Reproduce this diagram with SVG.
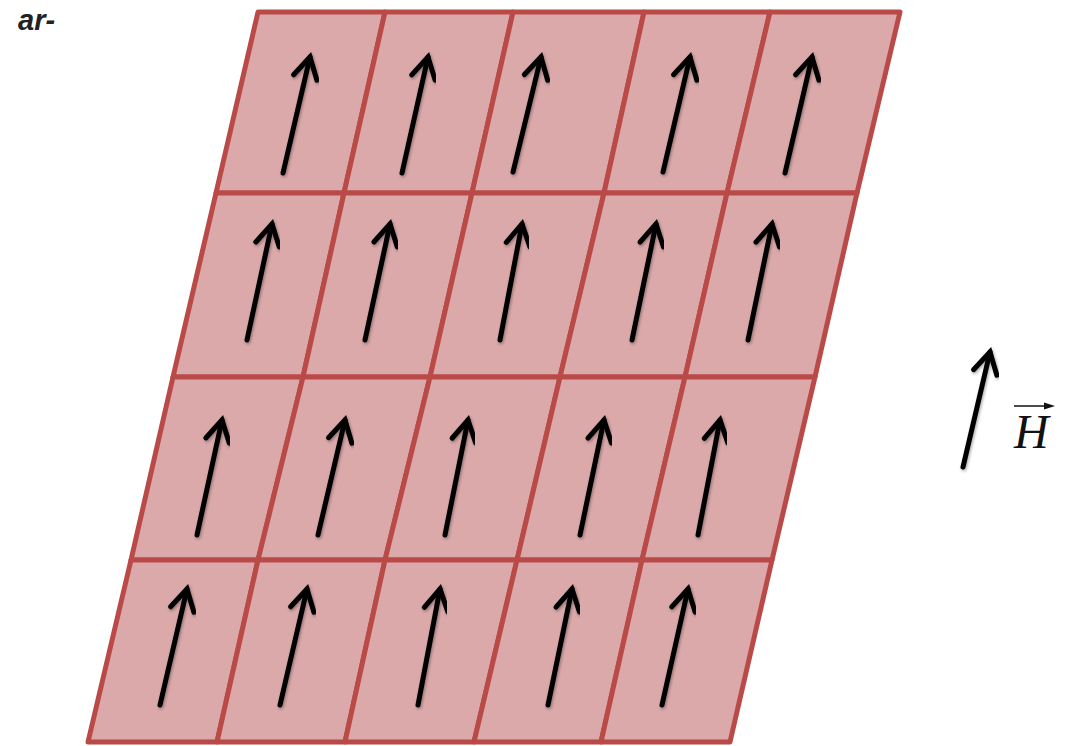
<svg xmlns="http://www.w3.org/2000/svg" width="1076" height="746" viewBox="0 0 1076 746">
<style>
.cell{fill:#dba9aa;stroke:#ba4a48;stroke-width:5;stroke-linejoin:round}
.arr{stroke:#000;stroke-width:5;fill:none;stroke-linecap:round;marker-end:url(#head);filter:url(#sh)}
.lbl{font-family:"Liberation Serif","DejaVu Serif",serif;font-style:italic;font-size:48px;fill:#111}
.frag{font-family:"Liberation Sans","DejaVu Sans",sans-serif;font-style:italic;font-weight:bold;font-size:29px;fill:#222}
</style>
<defs>
<marker id="head" markerUnits="userSpaceOnUse" viewBox="-30 -16 36 32" markerWidth="36" markerHeight="32" refX="0" refY="0" orient="auto" overflow="visible">
<path d="M-21,-12 L0,0 L-21,12" fill="none" stroke="#000" stroke-width="5" stroke-linecap="round" stroke-linejoin="miter"/>
</marker>
<filter id="sh" x="-30%" y="-10%" width="160%" height="120%">
<feDropShadow dx="1" dy="1.5" stdDeviation="1.5" flood-color="#000" flood-opacity="0.35"/>
</filter>
</defs>
<rect width="1076" height="746" fill="#fff"/>
<text class="frag" x="18" y="30">ar-</text>
<g id="r1c1"><polygon class="cell" points="258,12 385,12 344,193 216,193"/><line class="arr" x1="283" y1="173" x2="310" y2="57"/></g>
<g id="r1c2"><polygon class="cell" points="385,12 513,12 472,193 344,193"/><line class="arr" x1="402" y1="173" x2="428" y2="57"/></g>
<g id="r1c3"><polygon class="cell" points="513,12 644,12 604,193 472,193"/><line class="arr" x1="513" y1="172" x2="541" y2="57"/></g>
<g id="r1c4"><polygon class="cell" points="644,12 770,12 727,193 604,193"/><line class="arr" x1="663" y1="172" x2="690" y2="57"/></g>
<g id="r1c5"><polygon class="cell" points="770,12 900,12 857,193 727,193"/><line class="arr" x1="785" y1="173" x2="812" y2="57"/></g>
<g id="r2c1"><polygon class="cell" points="216,193 344,193 303,377 173,377"/><line class="arr" x1="247" y1="340" x2="272" y2="224"/></g>
<g id="r2c2"><polygon class="cell" points="344,193 472,193 430,377 303,377"/><line class="arr" x1="365" y1="340" x2="390" y2="224"/></g>
<g id="r2c3"><polygon class="cell" points="472,193 604,193 560,377 430,377"/><line class="arr" x1="500" y1="340" x2="522" y2="224"/></g>
<g id="r2c4"><polygon class="cell" points="604,193 727,193 685,377 560,377"/><line class="arr" x1="632" y1="340" x2="656" y2="224"/></g>
<g id="r2c5"><polygon class="cell" points="727,193 857,193 815,377 685,377"/><line class="arr" x1="748" y1="340" x2="772" y2="224"/></g>
<g id="r3c1"><polygon class="cell" points="173,377 303,377 258,560 131,560"/><line class="arr" x1="197" y1="535" x2="222" y2="420"/></g>
<g id="r3c2"><polygon class="cell" points="303,377 430,377 385,560 258,560"/><line class="arr" x1="318" y1="535" x2="345" y2="420"/></g>
<g id="r3c3"><polygon class="cell" points="430,377 560,377 517,560 385,560"/><line class="arr" x1="445" y1="535" x2="468" y2="420"/></g>
<g id="r3c4"><polygon class="cell" points="560,377 685,377 642,560 517,560"/><line class="arr" x1="580" y1="535" x2="604" y2="420"/></g>
<g id="r3c5"><polygon class="cell" points="685,377 815,377 772,560 642,560"/><line class="arr" x1="698" y1="535" x2="720" y2="420"/></g>
<g id="r4c1"><polygon class="cell" points="131,560 258,560 217,742 88,742"/><line class="arr" x1="160" y1="705" x2="187" y2="589"/></g>
<g id="r4c2"><polygon class="cell" points="258,560 385,560 345,742 217,742"/><line class="arr" x1="280" y1="705" x2="307" y2="589"/></g>
<g id="r4c3"><polygon class="cell" points="385,560 517,560 474,742 345,742"/><line class="arr" x1="418" y1="705" x2="440" y2="589"/></g>
<g id="r4c4"><polygon class="cell" points="517,560 642,560 601,742 474,742"/><line class="arr" x1="548" y1="705" x2="572" y2="589"/></g>
<g id="r4c5"><polygon class="cell" points="642,560 772,560 730,742 601,742"/><line class="arr" x1="662" y1="705" x2="688" y2="589"/></g>
<g id="connectors"></g>
<g id="field">
<line class="arr" x1="963" y1="467" x2="990" y2="352"/>
<text class="lbl" x="1014" y="448">H</text>
<line x1="1014" y1="406" x2="1050" y2="406" stroke="#111" stroke-width="1.6"/>
<path d="M1044,402.5 L1055,406 L1044,409.5 Z" fill="#111"/>
</g>
</svg>
